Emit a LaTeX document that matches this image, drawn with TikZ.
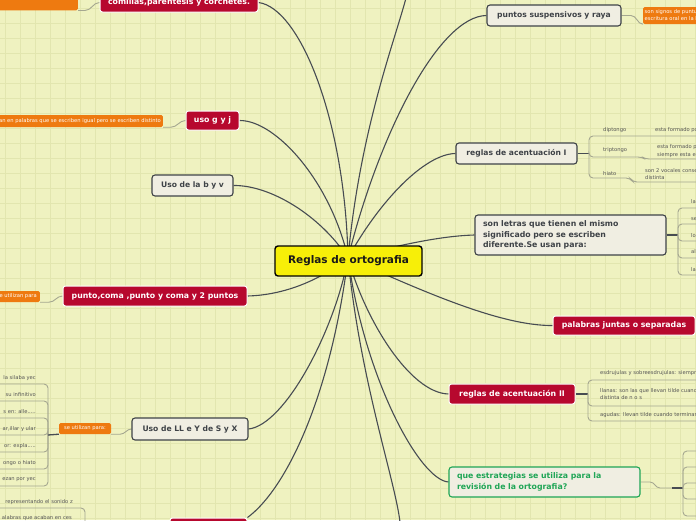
\documentclass[tikz,border=0pt]{standalone}
\usepackage{fontspec}
\setmainfont{DejaVu Sans}
\definecolor{bgc}{HTML}{EFF2C0}
\definecolor{gridc}{HTML}{E2E6AF}
\definecolor{redc}{HTML}{B7082E}
\definecolor{orangec}{HTML}{EE7A10}
\definecolor{beigec}{HTML}{F0EEE2}
\definecolor{borderc}{HTML}{3E4247}
\definecolor{greenc}{HTML}{1FA556}
\definecolor{yellowc}{HTML}{F7EF08}
\definecolor{linkc}{HTML}{474C52}
\definecolor{brc}{HTML}{A5A790}
\definecolor{leafc}{HTML}{555555}
\pgfdeclarelayer{backlayer}
\pgfdeclarelayer{linklayer}
\pgfsetlayers{backlayer,linklayer,main}
\begin{document}
\begin{tikzpicture}[x=1pt,y=-1pt,
  rootbox/.style={fill=yellowc,draw=black,line width=1.4pt,rounded corners=3pt,minimum width=147pt,minimum height=30pt,inner sep=0pt,font={\fontsize{10.5pt}{12pt}\selectfont\bfseries},text=black!90},
  redbox/.style={fill=redc,draw=white,line width=1pt,rounded corners=2.5pt,inner sep=0pt,text=white,font={\fontsize{7.8pt}{9pt}\selectfont\bfseries}},
  beigebox/.style={fill=beigec,draw=borderc,line width=1.1pt,rounded corners=3pt,inner sep=0pt,text=borderc,font={\fontsize{7.6pt}{9pt}\selectfont\bfseries}},
  greenbox/.style={fill=beigec,draw=greenc,line width=1.1pt,rounded corners=3pt,text=greenc,font={\fontsize{7.8pt}{11pt}\selectfont\bfseries}},
  orangebox/.style={fill=orangec,rounded corners=1.5pt,inner sep=1.5pt,text=white,font={\fontsize{5.2pt}{7pt}\selectfont}},
  leaf/.style={inner sep=0pt,text=leafc,font={\fontsize{5.2pt}{7.8pt}\selectfont}},
  mainlink/.style={draw=linkc,line width=1.1pt},
  sublink/.style={draw=brc,line width=0.9pt},
  brline/.style={draw=brc,line width=0.9pt,rounded corners=4pt},
  stemline/.style={draw=linkc,line width=1.3pt}]
\useasboundingbox (0,0) rectangle (696,520);
\begin{pgfonlayer}{backlayer}
\fill[bgc] (0,0) rectangle (696,520);
\foreach \i in {5,20,...,695} \draw[gridc,line width=0.5pt] (\i,0) -- (\i,520);
\foreach \j in {8,23,...,518} \draw[gridc,line width=0.5pt] (0,\j) -- (696,\j);
\end{pgfonlayer}

% ---------- nodes ----------
\node[rootbox] (root) at (348.5,261) {Reglas de ortografia};
\node[redbox,minimum width=158pt,minimum height=19pt] (comillas) at (179,2.5) {comillas,parentesis y corchetes.};
\node[orangebox,minimum width=100pt,minimum height=16pt,anchor=south east] (otl) at (78,10.5) {};
\node[beigebox,minimum width=134pt,minimum height=21pt] (susp) at (554,15.5) {puntos suspensivos y raya};
\node[orangebox,anchor=west,align=left,minimum height=17pt] (osusp) at (643,15.5) {son signos de puntuación que representan la\\escritura oral en la lengua escrita};
\node[redbox,minimum width=53pt,minimum height=19pt] (gyj) at (212.5,120.5) {uso g y j};
\node[orangebox,anchor=east,minimum height=12pt,inner xsep=2pt] (ogyj) at (163,121) {se usan en palabras que se escriben igual pero se escriben distinto};
\node[beigebox,minimum width=81pt,minimum height=21pt] (byv) at (192.5,185.5) {Uso de la b y v};
\node[redbox,minimum width=184pt,minimum height=20pt] (punto) at (155,296) {punto,coma ,punto y coma y 2 puntos};
\node[orangebox,anchor=east,minimum height=11pt,inner xsep=3pt] (opunto) at (40,296.5) {se utilizan para};
\node[beigebox,minimum width=116pt,minimum height=22pt] (llyx) at (190,429) {Uso de LL e Y de S y X};
\node[orangebox,minimum width=52pt,minimum height=11pt] (oll) at (85,428.5) {se utilizan para:};
\node[redbox,minimum width=77pt,minimum height=22pt] (bottomred) at (208.5,529) {};
\coordinate (topend) at (406,-2);
\coordinate (botend) at (400,522);

\node[beigebox,minimum width=121pt,minimum height=21pt] (acI) at (516.5,153.5) {reglas de acentuación I};
\node[beigebox,minimum width=191pt,minimum height=40pt,text width=175pt,inner xsep=8pt,align=left,font={\fontsize{7.8pt}{10.5pt}\selectfont\bfseries}] (letras) at (570.5,235) {son letras que tienen el mismo\\significado pero se escriben\\diferente.Se usan para:};
\node[redbox,minimum width=142pt,minimum height=19pt] (juntas) at (624,325.5) {palabras juntas o separadas};
\node[redbox,minimum width=126pt,minimum height=20pt] (acII) at (512,394) {reglas de acentuación II};
\node[greenbox,minimum width=191pt,minimum height=30pt,text width=175pt,inner xsep=8pt,align=left] (estr) at (544.5,482) {que estrategias se utiliza para la\\revisión de la ortografia?};

% ---------- leaves: Uso de LL ----------
\node[leaf,anchor=east] (l1) at (36,378) {la silaba yec};
\node[leaf,anchor=east] (l2) at (36,395) {su infinitivo};
\node[leaf,anchor=east] (l3) at (36,412) {s en: alle.....};
\node[leaf,anchor=east] (l4) at (36,429) {ar,illar y ular};
\node[leaf,anchor=east] (l5) at (36,446) {or: expla.....};
\node[leaf,anchor=east] (l6) at (36,463) {ongo o hiato};
\node[leaf,anchor=east] (l7) at (36,480) {ezan por yec};
\node[leaf,anchor=east] (b1) at (73,502) {representando el sonido z};
\node[leaf,anchor=east] (b2) at (72,518) {alabras que acaban en ces};
% reglas I
\node[leaf,anchor=west] (dip) at (603,130) {diptongo};
\node[leaf,anchor=west] (trip) at (603,150) {triptongo};
\node[leaf,anchor=west] (hia) at (603,174) {hiato};
\node[leaf,anchor=west] (dip2) at (655,130) {esta formado por};
\node[leaf,anchor=west,align=left] (trip2) at (657,151) {esta formado por\\siempre esta en};
\node[leaf,anchor=west,align=left] (hia2) at (645,174) {son 2 vocales consecutivas\\distinta};
% letras
\node[leaf,anchor=west] (t1) at (691,202) {la};
\node[leaf,anchor=west] (t2) at (691,219) {se};
\node[leaf,anchor=west] (t3) at (691,236) {lo};
\node[leaf,anchor=west] (t4) at (691,252) {al};
\node[leaf,anchor=west] (t5) at (691,270) {la};
% reglas II
\node[leaf,anchor=west] (r1) at (600,373) {esdrujulas y sobreesdrujulas: siempre llevan tilde};
\node[leaf,anchor=west,align=left] (r2) at (600,394) {llanas: son las que llevan tilde cuando terminan en consonante\\distinta de n o s};
\node[leaf,anchor=west] (r3) at (600,415) {agudas: llevan tilde cuando terminan en n, s o vocal};

\begin{pgfonlayer}{linklayer}
% ---------- main links ----------
\coordinate (c) at (348,258);
\draw[mainlink] (c) .. controls (345,120) and (300,8) .. (comillas.east);
\draw[mainlink] (c) .. controls (330,180) and (275,120) .. (gyj.east);
\draw[mainlink] (c) .. controls (320,215) and (270,185) .. (byv.east);
\draw[mainlink] (c) .. controls (320,280) and (285,295) .. (punto.east);
\draw[mainlink] (c) .. controls (335,330) and (285,425) .. (llyx.east);
\draw[mainlink] (c) .. controls (330,400) and (285,490) .. (bottomred.north east);
\draw[mainlink] (c) .. controls (360,380) and (395,480) .. (botend);
\draw[mainlink] (c) .. controls (360,130) and (395,40) .. (topend);
\draw[mainlink] (c) .. controls (380,130) and (440,16) .. (susp.west);
\draw[mainlink] (c) .. controls (380,200) and (425,154) .. (acI.west);
\draw[mainlink] (c) .. controls (400,245) and (440,236) .. (letras.west);
\draw[mainlink] (c) .. controls (420,290) and (500,326) .. (juntas.west);
\draw[mainlink] (c) .. controls (365,320) and (410,393) .. (acII.west);
\draw[mainlink] (c) .. controls (365,380) and (420,480) .. (estr.west);

% ---------- sub links ----------
\draw[sublink] (otl.south east) -- ++(7,0) to[out=0,in=180] (comillas.west);
\draw[sublink] (susp.east) -- (631,15.5) to[out=0,in=180] (osusp.south west);
\draw[sublink] (ogyj.south east) -- ++(8,0) to[out=0,in=180] (gyj.west);
\draw[sublink] (opunto.south east) -- ++(9,0) to[out=0,in=180] (punto.west);
\draw[sublink] (oll.south east) -- ++(9,0) to[out=0,in=180] (llyx.west);
\draw[sublink] (estr.east) -- (650,482) to[out=0,in=180] (660,488) -- (672,488);

% brackets
\coordinate (jll) at (48,435);
\foreach \y in {384,401,418,435,452,469,486} \draw[brline] (-5,\y) -| (jll);
\draw[stemline] (jll) -- (oll.south west);
\draw[brline] (-5,508) -| (85,540);
\draw[brline] (-5,524) -| (85,540);

\coordinate (jI) at (589,153.5);
\draw[stemline] (acI.east) -- (jI);
\draw[brline] (jI) |- (700,136);
\draw[brline] (jI) |- (642,157) -- (645,159) -- (700,159);
\draw[brline] (jI) |- (630,178) -- (633,182) -- (700,182);

\coordinate (jL) at (678,235);
\draw[stemline] (letras.east) -- (jL);
\foreach \y in {208,224,241,258,275} \draw[brline] (jL) |- (700,\y);

\coordinate (jII) at (588,394);
\draw[stemline] (acII.east) -- (jII);
\foreach \y in {380,406,421} \draw[brline] (jII) |- (700,\y);

\coordinate (jE) at (683,488);
\draw[stemline] (672,488) -- (jE);
\foreach \y in {451,467,483,499,516} \draw[brline] (jE) |- (700,\y);
\end{pgfonlayer}
\end{tikzpicture}
\end{document}
